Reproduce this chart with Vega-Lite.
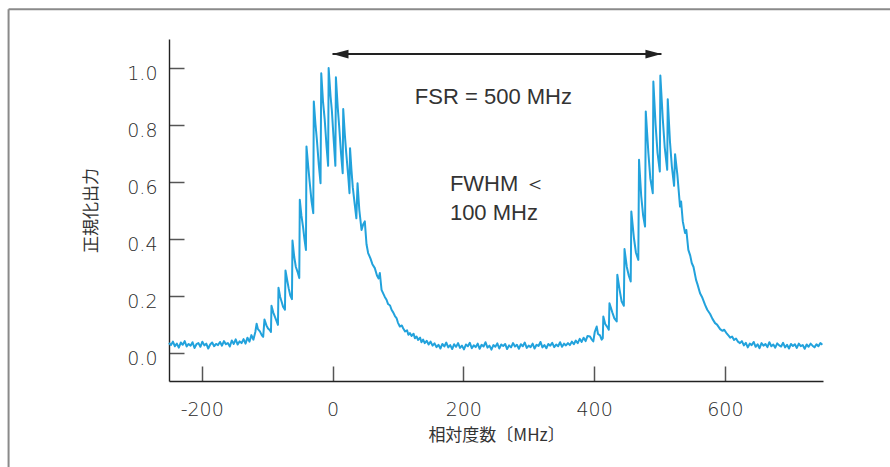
{
  "$schema": "https://vega.github.io/schema/vega-lite/v6.json",
  "width": 654,
  "height": 342,
  "autosize": {"type": "none"},
  "padding": {"left": 169, "top": 39, "right": 67, "bottom": 86},
  "background": "white",
  "config": {
    "view": {"stroke": null},
    "axis": {
      "grid": false,
      "domainColor": "#222222", "domainWidth": 1.4,
      "tickColor": "#555555", "tickWidth": 1.5, "tickSize": -15,
      "labelFont": "DejaVu Sans", "labelFontSize": 19, "labelFontWeight": 200, "labelColor": "#2a2a2a",
      "titleFont": "Noto Sans CJK JP", "titleFontSize": 17, "titleFontWeight": "normal", "titleColor": "#333333"
    },
    "axisX": {"labelPadding": 34, "titlePadding": 8},
    "axisY": {"labelPadding": 27, "labelOffset": 6, "titlePadding": 26}
  },
  "datasets": {
    "spectrum": [
      {"f": -250, "p": 0.034}, {"f": -247, "p": 0.026}, {"f": -244, "p": 0.038}, {"f": -241, "p": 0.022},
      {"f": -238, "p": 0.031}, {"f": -235, "p": 0.017}, {"f": -232, "p": 0.035}, {"f": -229, "p": 0.027},
      {"f": -226, "p": 0.040}, {"f": -223, "p": 0.021}, {"f": -220, "p": 0.030}, {"f": -217, "p": 0.024},
      {"f": -214, "p": 0.036}, {"f": -211, "p": 0.016}, {"f": -208, "p": 0.029}, {"f": -205, "p": 0.033},
      {"f": -202, "p": 0.020}, {"f": -199, "p": 0.038}, {"f": -196, "p": 0.025}, {"f": -193, "p": 0.031},
      {"f": -190, "p": 0.014}, {"f": -187, "p": 0.028}, {"f": -184, "p": 0.035}, {"f": -181, "p": 0.022},
      {"f": -178, "p": 0.030}, {"f": -175, "p": 0.026}, {"f": -172, "p": 0.037}, {"f": -169, "p": 0.024},
      {"f": -166, "p": 0.040}, {"f": -163, "p": 0.029}, {"f": -160, "p": 0.033}, {"f": -157, "p": 0.021},
      {"f": -154, "p": 0.042}, {"f": -151, "p": 0.030}, {"f": -148, "p": 0.046}, {"f": -145, "p": 0.028},
      {"f": -142, "p": 0.039}, {"f": -139, "p": 0.033}, {"f": -136, "p": 0.047}, {"f": -133, "p": 0.031},
      {"f": -130, "p": 0.052}, {"f": -127, "p": 0.038}, {"f": -124, "p": 0.061}, {"f": -121, "p": 0.045},
      {"f": -118, "p": 0.072}, {"f": -116, "p": 0.101}, {"f": -114, "p": 0.082}, {"f": -111, "p": 0.074},
      {"f": -108, "p": 0.060}, {"f": -106, "p": 0.055}, {"f": -104, "p": 0.116}, {"f": -101, "p": 0.095},
      {"f": -98.5, "p": 0.084}, {"f": -96, "p": 0.079}, {"f": -94.1, "p": 0.072}, {"f": -93.3, "p": 0.164},
      {"f": -90.5, "p": 0.140}, {"f": -88, "p": 0.125}, {"f": -85.5, "p": 0.110}, {"f": -83.4, "p": 0.097},
      {"f": -82.6, "p": 0.227}, {"f": -80, "p": 0.195}, {"f": -78, "p": 0.180}, {"f": -75.6, "p": 0.161},
      {"f": -72.7, "p": 0.150}, {"f": -71.9, "p": 0.288}, {"f": -69, "p": 0.250}, {"f": -67, "p": 0.225},
      {"f": -64.5, "p": 0.200}, {"f": -62, "p": 0.187}, {"f": -61.2, "p": 0.393}, {"f": -58.5, "p": 0.335},
      {"f": -56, "p": 0.300}, {"f": -53, "p": 0.280}, {"f": -50.8, "p": 0.261}, {"f": -50, "p": 0.536},
      {"f": -47.5, "p": 0.480}, {"f": -45, "p": 0.440}, {"f": -43, "p": 0.400}, {"f": -40.6, "p": 0.360},
      {"f": -39.8, "p": 0.723}, {"f": -37, "p": 0.650}, {"f": -35, "p": 0.600}, {"f": -32, "p": 0.530},
      {"f": -29.4, "p": 0.489}, {"f": -28.6, "p": 0.881}, {"f": -26, "p": 0.800}, {"f": -24, "p": 0.750},
      {"f": -21, "p": 0.660}, {"f": -18.3, "p": 0.594}, {"f": -17.2, "p": 0.980}, {"f": -14.5, "p": 0.880},
      {"f": -12, "p": 0.820}, {"f": -9, "p": 0.720}, {"f": -6.7, "p": 0.655}, {"f": -5.9, "p": 0.998},
      {"f": -3, "p": 0.900}, {"f": -1, "p": 0.850}, {"f": 2, "p": 0.740}, {"f": 4.4, "p": 0.655},
      {"f": 5.2, "p": 0.966}, {"f": 8, "p": 0.860}, {"f": 10, "p": 0.800}, {"f": 13, "p": 0.700},
      {"f": 15.6, "p": 0.629}, {"f": 16.4, "p": 0.854}, {"f": 19, "p": 0.760}, {"f": 21, "p": 0.700},
      {"f": 24, "p": 0.620}, {"f": 26, "p": 0.559}, {"f": 26.8, "p": 0.717}, {"f": 29, "p": 0.640},
      {"f": 31, "p": 0.580}, {"f": 34, "p": 0.520}, {"f": 36.5, "p": 0.471}, {"f": 38.3, "p": 0.594},
      {"f": 41, "p": 0.500}, {"f": 44.4, "p": 0.430}, {"f": 47, "p": 0.450}, {"f": 49.4, "p": 0.460},
      {"f": 52, "p": 0.380}, {"f": 54.5, "p": 0.349}, {"f": 58, "p": 0.330}, {"f": 61, "p": 0.310},
      {"f": 64.7, "p": 0.296}, {"f": 68, "p": 0.270}, {"f": 70.5, "p": 0.260}, {"f": 72.4, "p": 0.279},
      {"f": 75, "p": 0.220}, {"f": 78, "p": 0.205}, {"f": 80, "p": 0.195}, {"f": 82.6, "p": 0.185},
      {"f": 85, "p": 0.170}, {"f": 88, "p": 0.165}, {"f": 90.3, "p": 0.150}, {"f": 93, "p": 0.140},
      {"f": 95.5, "p": 0.128}, {"f": 97.9, "p": 0.121}, {"f": 100, "p": 0.105}, {"f": 103, "p": 0.091},
      {"f": 106, "p": 0.095}, {"f": 108, "p": 0.085}, {"f": 111, "p": 0.074}, {"f": 114, "p": 0.078},
      {"f": 116, "p": 0.062}, {"f": 118.3, "p": 0.068}, {"f": 121, "p": 0.058}, {"f": 124, "p": 0.066},
      {"f": 126, "p": 0.050}, {"f": 128.5, "p": 0.056}, {"f": 131, "p": 0.044}, {"f": 134, "p": 0.052},
      {"f": 136, "p": 0.036}, {"f": 138.6, "p": 0.045}, {"f": 141, "p": 0.033}, {"f": 144, "p": 0.041},
      {"f": 147, "p": 0.028}, {"f": 150, "p": 0.038}, {"f": 153, "p": 0.024}, {"f": 156, "p": 0.032},
      {"f": 159, "p": 0.019}, {"f": 162, "p": 0.027}, {"f": 165, "p": 0.014}, {"f": 168, "p": 0.030},
      {"f": 171, "p": 0.021}, {"f": 174, "p": 0.035}, {"f": 177, "p": 0.018}, {"f": 180, "p": 0.026},
      {"f": 183, "p": 0.012}, {"f": 186, "p": 0.029}, {"f": 189, "p": 0.020}, {"f": 192, "p": 0.033},
      {"f": 195, "p": 0.016}, {"f": 198, "p": 0.024}, {"f": 201, "p": 0.011}, {"f": 204, "p": 0.028},
      {"f": 207, "p": 0.022}, {"f": 210, "p": 0.034}, {"f": 213, "p": 0.015}, {"f": 216, "p": 0.025},
      {"f": 219, "p": 0.019}, {"f": 222, "p": 0.031}, {"f": 225, "p": 0.013}, {"f": 228, "p": 0.027},
      {"f": 231, "p": 0.021}, {"f": 234, "p": 0.036}, {"f": 237, "p": 0.017}, {"f": 240, "p": 0.024},
      {"f": 243, "p": 0.010}, {"f": 246, "p": 0.026}, {"f": 249, "p": 0.020}, {"f": 252, "p": 0.032},
      {"f": 255, "p": 0.014}, {"f": 258, "p": 0.028}, {"f": 261, "p": 0.023}, {"f": 264, "p": 0.030},
      {"f": 267, "p": 0.012}, {"f": 270, "p": 0.025}, {"f": 273, "p": 0.018}, {"f": 276, "p": 0.033},
      {"f": 279, "p": 0.021}, {"f": 282, "p": 0.027}, {"f": 285, "p": 0.013}, {"f": 288, "p": 0.029},
      {"f": 291, "p": 0.022}, {"f": 294, "p": 0.035}, {"f": 297, "p": 0.016}, {"f": 300, "p": 0.024},
      {"f": 303, "p": 0.019}, {"f": 306, "p": 0.031}, {"f": 309, "p": 0.014}, {"f": 312, "p": 0.027},
      {"f": 315, "p": 0.023}, {"f": 318, "p": 0.037}, {"f": 321, "p": 0.018}, {"f": 324, "p": 0.026},
      {"f": 327, "p": 0.015}, {"f": 330, "p": 0.030}, {"f": 333, "p": 0.024}, {"f": 336, "p": 0.034},
      {"f": 339, "p": 0.019}, {"f": 342, "p": 0.028}, {"f": 345, "p": 0.022}, {"f": 348, "p": 0.036},
      {"f": 351, "p": 0.020}, {"f": 354, "p": 0.031}, {"f": 357, "p": 0.025}, {"f": 360, "p": 0.033},
      {"f": 363, "p": 0.026}, {"f": 366, "p": 0.038}, {"f": 369, "p": 0.029}, {"f": 372, "p": 0.042},
      {"f": 375, "p": 0.033}, {"f": 378, "p": 0.048}, {"f": 381, "p": 0.037}, {"f": 384, "p": 0.052},
      {"f": 387, "p": 0.040}, {"f": 390, "p": 0.058}, {"f": 393.7, "p": 0.056}, {"f": 396, "p": 0.047},
      {"f": 398.8, "p": 0.039}, {"f": 401, "p": 0.072}, {"f": 404, "p": 0.091}, {"f": 406, "p": 0.065},
      {"f": 409, "p": 0.060}, {"f": 411.6, "p": 0.045}, {"f": 413.3, "p": 0.050}, {"f": 414.1, "p": 0.126},
      {"f": 417, "p": 0.100}, {"f": 420, "p": 0.090}, {"f": 422.5, "p": 0.080}, {"f": 423.5, "p": 0.173},
      {"f": 428, "p": 0.140}, {"f": 431, "p": 0.120}, {"f": 434.6, "p": 0.109}, {"f": 435.5, "p": 0.273},
      {"f": 439, "p": 0.220}, {"f": 442, "p": 0.180}, {"f": 445.5, "p": 0.164}, {"f": 446.5, "p": 0.363},
      {"f": 450, "p": 0.300}, {"f": 453, "p": 0.270}, {"f": 456, "p": 0.249}, {"f": 456.9, "p": 0.495},
      {"f": 461, "p": 0.400}, {"f": 464, "p": 0.350}, {"f": 467.6, "p": 0.325}, {"f": 468.7, "p": 0.676},
      {"f": 472, "p": 0.550}, {"f": 475, "p": 0.480}, {"f": 477.9, "p": 0.442}, {"f": 479, "p": 0.846},
      {"f": 483, "p": 0.700}, {"f": 486, "p": 0.610}, {"f": 489.7, "p": 0.559}, {"f": 490.6, "p": 0.951},
      {"f": 494, "p": 0.800}, {"f": 497, "p": 0.700}, {"f": 500.5, "p": 0.635}, {"f": 501.3, "p": 0.972},
      {"f": 505, "p": 0.820}, {"f": 508, "p": 0.720}, {"f": 511.8, "p": 0.641}, {"f": 512.6, "p": 0.889},
      {"f": 516, "p": 0.740}, {"f": 519, "p": 0.650}, {"f": 522.3, "p": 0.585}, {"f": 523.8, "p": 0.696},
      {"f": 527.3, "p": 0.624}, {"f": 531.4, "p": 0.512}, {"f": 533, "p": 0.530}, {"f": 535.6, "p": 0.460},
      {"f": 539.1, "p": 0.419}, {"f": 541, "p": 0.430}, {"f": 544.1, "p": 0.360}, {"f": 547, "p": 0.340},
      {"f": 549.3, "p": 0.314}, {"f": 552, "p": 0.300}, {"f": 555.9, "p": 0.255}, {"f": 558, "p": 0.240},
      {"f": 562, "p": 0.208}, {"f": 565, "p": 0.195}, {"f": 569.7, "p": 0.167}, {"f": 573, "p": 0.150},
      {"f": 577.4, "p": 0.135}, {"f": 581, "p": 0.118}, {"f": 585, "p": 0.103}, {"f": 588, "p": 0.098},
      {"f": 592.7, "p": 0.082}, {"f": 596, "p": 0.076}, {"f": 599, "p": 0.080}, {"f": 603, "p": 0.066},
      {"f": 606, "p": 0.058}, {"f": 608, "p": 0.052}, {"f": 611, "p": 0.056}, {"f": 614, "p": 0.044},
      {"f": 617, "p": 0.049}, {"f": 620, "p": 0.038}, {"f": 623, "p": 0.033}, {"f": 626, "p": 0.040},
      {"f": 629, "p": 0.025}, {"f": 632, "p": 0.034}, {"f": 635, "p": 0.018}, {"f": 638, "p": 0.031},
      {"f": 641, "p": 0.026}, {"f": 644, "p": 0.037}, {"f": 647, "p": 0.020}, {"f": 650, "p": 0.029},
      {"f": 653, "p": 0.015}, {"f": 656, "p": 0.033}, {"f": 659, "p": 0.024}, {"f": 662, "p": 0.030},
      {"f": 665, "p": 0.019}, {"f": 668, "p": 0.036}, {"f": 671, "p": 0.022}, {"f": 674, "p": 0.028},
      {"f": 677, "p": 0.017}, {"f": 680, "p": 0.032}, {"f": 683, "p": 0.025}, {"f": 686, "p": 0.021},
      {"f": 689, "p": 0.034}, {"f": 692, "p": 0.018}, {"f": 695, "p": 0.027}, {"f": 698, "p": 0.014},
      {"f": 701, "p": 0.030}, {"f": 704, "p": 0.023}, {"f": 707, "p": 0.029}, {"f": 710, "p": 0.016},
      {"f": 713, "p": 0.031}, {"f": 716, "p": 0.022}, {"f": 719, "p": 0.026}, {"f": 722, "p": 0.013},
      {"f": 725, "p": 0.028}, {"f": 728, "p": 0.020}, {"f": 731, "p": 0.031}, {"f": 734, "p": 0.024},
      {"f": 737, "p": 0.018}, {"f": 740, "p": 0.029}, {"f": 743, "p": 0.022}, {"f": 746, "p": 0.033},
      {"f": 749, "p": 0.027}
    ],
    "frame": [
      {"x": -495.3, "x2": 860, "y": 1.2042, "y2": 1.2042},
      {"x": -495.3, "x2": -495.3, "y": 1.2042, "y2": -0.45}
    ],
    "arrow": [{"x": 0, "x2": 503, "y": 1.047}],
    "heads": [{"x": 0, "y": 1.047, "dir": "left"}, {"x": 503, "y": 1.047, "dir": "right"}],
    "label_center": [{"x": 246, "y": 0.873, "t": "FSR = 500 MHz"}],
    "label_left": [{"x": 179.5, "y": 0.567, "t": "FWHM ＜"}, {"x": 179.5, "y": 0.466, "t": "100 MHz"}]
  },
  "layer": [
    {
      "data": {"name": "spectrum"},
      "mark": {"type": "line", "color": "#22a2dc", "strokeWidth": 2, "strokeJoin": "round"},
      "encoding": {
        "x": {
          "field": "f", "type": "quantitative",
          "scale": {"domain": [-250, 750], "nice": false, "zero": false},
          "axis": {
            "title": "相対度数〔MHz〕", "values": [-200, 0, 200, 400, 600],
            "labelExpr": "datum.value < 0 ? '-' + format(-datum.value, 'd') : format(datum.value, 'd')"
          }
        },
        "y": {
          "field": "p", "type": "quantitative",
          "scale": {"domain": [-0.1, 1.1], "nice": false, "zero": false},
          "axis": {"title": "正規化出力", "values": [0, 0.2, 0.4, 0.6, 0.8, 1.0], "format": ".1f"}
        }
      }
    },
    {
      "data": {"name": "frame"},
      "mark": {"type": "rule", "color": "#8a8a8a", "strokeWidth": 2, "clip": false},
      "encoding": {
        "x": {"field": "x", "type": "quantitative", "scale": {"domain": [-250, 750], "nice": false, "zero": false}},
        "x2": {"field": "x2"},
        "y": {"field": "y", "type": "quantitative", "scale": {"domain": [-0.1, 1.1], "nice": false, "zero": false}},
        "y2": {"field": "y2"}
      }
    },
    {
      "data": {"name": "arrow"},
      "mark": {"type": "rule", "color": "#222222", "strokeWidth": 2, "clip": false},
      "encoding": {
        "x": {"field": "x", "type": "quantitative", "scale": {"domain": [-250, 750], "nice": false, "zero": false}},
        "x2": {"field": "x2"},
        "y": {"field": "y", "type": "quantitative", "scale": {"domain": [-0.1, 1.1], "nice": false, "zero": false}}
      }
    },
    {
      "data": {"name": "heads"},
      "mark": {"type": "point", "filled": true, "color": "#222222", "opacity": 1, "size": 256, "clip": false},
      "encoding": {
        "x": {"field": "x", "type": "quantitative", "scale": {"domain": [-250, 750], "nice": false, "zero": false}},
        "y": {"field": "y", "type": "quantitative", "scale": {"domain": [-0.1, 1.1], "nice": false, "zero": false}},
        "shape": {"field": "dir", "type": "nominal", "scale": {"domain": ["left", "right"], "range": ["M0,0L2,-0.55L2,0.55Z", "M0,0L-2,-0.55L-2,0.55Z"]}, "legend": null}
      }
    },
    {
      "data": {"name": "label_center"},
      "mark": {"type": "text", "align": "center", "baseline": "alphabetic", "font": "Liberation Sans", "fontSize": 22, "color": "#333333"},
      "encoding": {
        "x": {"field": "x", "type": "quantitative", "scale": {"domain": [-250, 750], "nice": false, "zero": false}},
        "y": {"field": "y", "type": "quantitative", "scale": {"domain": [-0.1, 1.1], "nice": false, "zero": false}},
        "text": {"field": "t"}
      }
    },
    {
      "data": {"name": "label_left"},
      "mark": {"type": "text", "align": "left", "baseline": "alphabetic", "font": "Liberation Sans", "fontSize": 22, "color": "#333333"},
      "encoding": {
        "x": {"field": "x", "type": "quantitative", "scale": {"domain": [-250, 750], "nice": false, "zero": false}},
        "y": {"field": "y", "type": "quantitative", "scale": {"domain": [-0.1, 1.1], "nice": false, "zero": false}},
        "text": {"field": "t"}
      }
    }
  ]
}
